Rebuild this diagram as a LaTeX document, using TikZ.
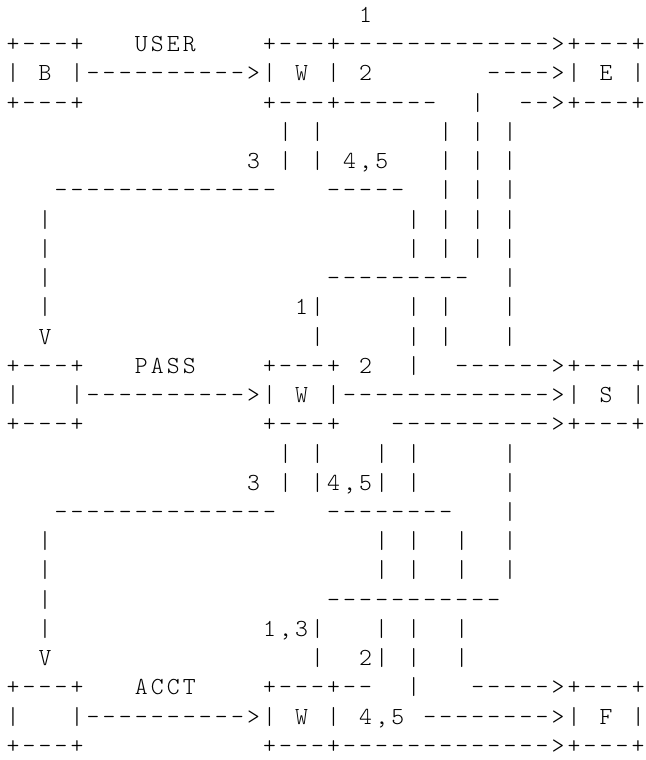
\documentclass[tikz,border=0pt]{standalone}
\ExplSyntaxOn
\cs_new:Npn \AscSp #1 { \prg_replicate:nn {#1} {.} }
\cs_new:Npn \AscDh #1 { \prg_replicate:nn {#1} {-} }
\ExplSyntaxOff
\makeatletter
\newcommand\ascline[1]{\edef\asc@s{#1}\expandafter\asc@loop\asc@s\relax}
\def\asc@loop#1{\ifx\relax#1\else\asc@cell{#1}\expandafter\asc@loop\fi}
\def\asc@cell#1{\if.#1\makebox[16.03pt]{}\else\makebox[16.03pt][c]{#1}\fi}
\makeatother
\tikzset{arow/.style={anchor=base west, inner sep=0pt, outer sep=0pt,
  font=\fontsize{24.5}{29.32}\selectfont\ttfamily\fontseries{l}\selectfont}}
\newcommand\asciirow[3]{\node[arow] (#1) at (5,{-(22.4+29.24*(#2-1))}) {\ascline{#3}};}
\begin{document}
\begin{tikzpicture}[x=1pt,y=1pt]
\fill[white] (0,0) rectangle (645,-760);
\useasboundingbox (0,0) rectangle (645,-760);
\asciirow{l1}{1}{\AscSp{22}1}
\asciirow{l2}{2}{+---+\AscSp{3}USER\AscSp{4}+---+\AscDh{13}>+---+}
\asciirow{l3}{3}{|.B.|\AscDh{10}>|.W.|.2\AscSp{7}\AscDh{4}>|.E.|}
\asciirow{l4}{4}{+---+\AscSp{11}+---+\AscDh{6}..|..\AscDh{2}>+---+}
\asciirow{l5}{5}{\AscSp{17}|.|\AscSp{7}|.|.|}
\asciirow{l6}{6}{\AscSp{15}3.|.|.4,5...|.|.|}
\asciirow{l7}{7}{\AscSp{3}\AscDh{14}\AscSp{3}\AscDh{5}..|.|.|}
\asciirow{l8}{8}{\AscSp{2}|\AscSp{22}|.|.|.|}
\asciirow{l9}{9}{\AscSp{2}|\AscSp{22}|.|.|.|}
\asciirow{l10}{10}{\AscSp{2}|\AscSp{17}\AscDh{9}..|}
\asciirow{l11}{11}{\AscSp{2}|\AscSp{15}1|\AscSp{5}|.|...|}
\asciirow{l12}{12}{\AscSp{2}V\AscSp{16}|\AscSp{5}|.|...|}
\asciirow{l13}{13}{+---+\AscSp{3}PASS\AscSp{4}+---+.2..|..\AscDh{6}>+---+}
\asciirow{l14}{14}{|...|\AscDh{10}>|.W.|\AscDh{13}>|.S.|}
\asciirow{l15}{15}{+---+\AscSp{11}+---+...\AscDh{10}>+---+}
\asciirow{l16}{16}{\AscSp{17}|.|...|.|\AscSp{5}|}
\asciirow{l17}{17}{\AscSp{15}3.|.|4,5|.|\AscSp{5}|}
\asciirow{l18}{18}{\AscSp{3}\AscDh{14}\AscSp{3}\AscDh{8}...|}
\asciirow{l19}{19}{\AscSp{2}|\AscSp{20}|.|..|..|}
\asciirow{l20}{20}{\AscSp{2}|\AscSp{20}|.|..|..|}
\asciirow{l21}{21}{\AscSp{2}|\AscSp{17}\AscDh{11}}
\asciirow{l22}{22}{\AscSp{2}|\AscSp{13}1,3|...|.|..|}
\asciirow{l23}{23}{\AscSp{2}V\AscSp{16}|..2|.|..|}
\asciirow{l24}{24}{+---+\AscSp{3}ACCT\AscSp{4}+---+--..|...\AscDh{5}>+---+}
\asciirow{l25}{25}{|...|\AscDh{10}>|.W.|.4,5.\AscDh{8}>|.F.|}
\asciirow{l26}{26}{+---+\AscSp{11}+---+\AscDh{13}>+---+}
\end{tikzpicture}
\end{document}
